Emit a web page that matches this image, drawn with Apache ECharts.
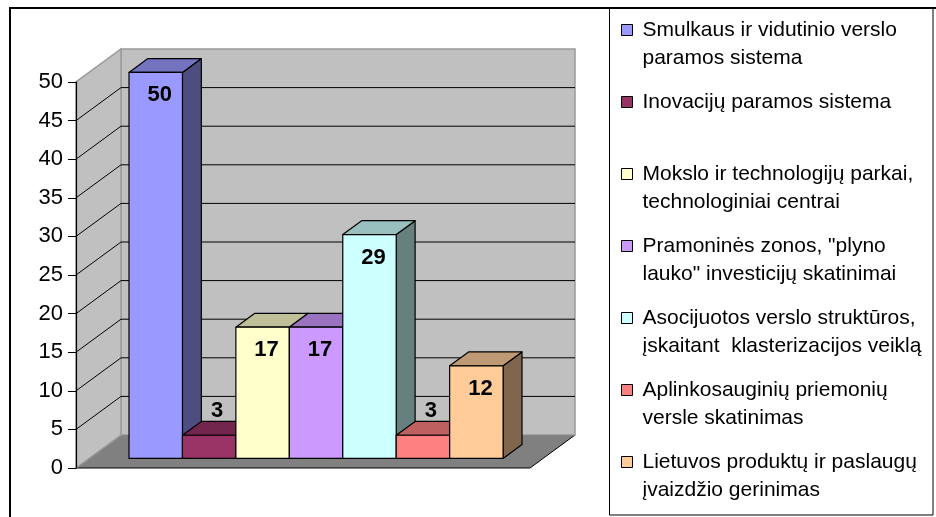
<!DOCTYPE html>
<html>
<head>
<meta charset="utf-8">
<script src="https://cdn.jsdelivr.net/npm/echarts@6/dist/echarts.min.js"></script>
<style>
  html, body { margin: 0; padding: 0; background: #fff; }
  #chart { width: 936px; height: 517px; }
</style>
</head>
<body>
<div id="chart"></div>
<script>
// data
const categories = [""];
const seriesNames = [
  "Smulkaus ir vidutinio verslo\nparamos sistema",
  "Inovacijų paramos sistema",
  "Mokslo ir technologijų parkai,\ntechnologiniai centrai",
  "Pramoninės zonos, \"plyno\nlauko\" investicijų skatinimai",
  "Asocijuotos verslo struktūros,\nįskaitant  klasterizacijos veiklą",
  "Aplinkosauginių priemonių\nversle skatinimas",
  "Lietuvos produktų ir paslaugų\nįvaizdžio gerinimas",
];
const values = [50, 3, 17, 17, 29, 3, 12];
const colors = ["#9999FF", "#993366", "#FFFFCC", "#CC99FF", "#CCFFFF", "#FF8080", "#FFCC99"];
const yTicks = [0, 5, 10, 15, 20, 25, 30, 35, 40, 45, 50];

const FONT = "'Liberation Sans', Arial, sans-serif";
const DEPTH = [45, -33]; // oblique offset of the back plane
const BAR_FRONT = 0.29; // bars sit between these depth fractions
const BAR_BACK = 0.71;
const GROUP_WIDTH = 0.824;

function shade(hex, k) {
  const n = parseInt(hex.slice(1), 16);
  const r = Math.round(((n >> 16) & 255) * k);
  const g = Math.round(((n >> 8) & 255) * k);
  const b = Math.round((n & 255) * k);
  return "rgb(" + r + "," + g + "," + b + ")";
}

const chart = echarts.init(document.getElementById("chart"));

// back wall, side wall, floor and their gridlines
function renderWalls(params, api) {
  const cs = params.coordSys;
  const x0 = cs.x;
  const x1 = cs.x + cs.width;
  const yBase = api.coord([0, yTicks[0]])[1];
  const yTop = api.coord([0, yTicks[yTicks.length - 1]])[1];
  const dx = DEPTH[0];
  const dy = DEPTH[1];
  const children = [
    {
      type: "polygon",
      shape: { points: [[x0, yBase], [x1, yBase], [x1 + dx, yBase + dy], [x0 + dx, yBase + dy]] },
      style: { fill: "#808080", stroke: "#000", lineWidth: 1 },
    },
    {
      type: "polygon",
      shape: { points: [[x0 + dx, yTop + dy], [x1 + dx, yTop + dy], [x1 + dx, yBase + dy], [x0 + dx, yBase + dy]] },
      style: { fill: "#C0C0C0", stroke: "#9a9a9a", lineWidth: 1.5 },
    },
    {
      type: "polygon",
      shape: { points: [[x0, yBase], [x0, yTop], [x0 + dx, yTop + dy], [x0 + dx, yBase + dy]] },
      style: { fill: "#C0C0C0", stroke: "#9a9a9a", lineWidth: 1.5 },
    },
  ];
  yTicks.slice(1, -1).forEach((v) => {
    const y = api.coord([0, v])[1];
    children.push({
      type: "line",
      shape: { x1: x0 + dx, y1: y + dy, x2: x1 + dx, y2: y + dy },
      style: { stroke: "#000", lineWidth: 1 },
    });
    children.push({
      type: "line",
      shape: { x1: x0, y1: y, x2: x0 + dx, y2: y + dy },
      style: { stroke: "#000", lineWidth: 1 },
    });
  });
  return { type: "group", children: children };
}

// one 3D column per series, placed side by side in the single category
function renderBar(params, api) {
  const idx = params.seriesIndex - 1;
  const bandW = api.size([1, 0])[0];
  const center = api.coord([api.value(0), 0])[0];
  const groupW = bandW * GROUP_WIDTH;
  const barW = groupW / values.length;
  const v = api.value(1);
  const left = center - groupW / 2 + idx * barW;
  const right = left + barW;
  const yBase = api.coord([api.value(0), 0])[1];
  const yTop = api.coord([api.value(0), v])[1];
  const fx = DEPTH[0] * BAR_FRONT, fy = DEPTH[1] * BAR_FRONT;
  const bx = DEPTH[0] * BAR_BACK, by = DEPTH[1] * BAR_BACK;
  const col = colors[idx];
  const line = { stroke: "#000", lineWidth: 1.2, lineJoin: "round" };
  const label = v >= 10
    ? { x: (left + right) / 2 + fx + 4, y: yTop + fy + 23 }
    : { x: (left + right) / 2 + fx + 8, y: yTop + fy - 24 };
  return {
    type: "group",
    children: [
      {
        type: "polygon",
        shape: { points: [[right + fx, yBase + fy], [right + bx, yBase + by], [right + bx, yTop + by], [right + fx, yTop + fy]] },
        style: Object.assign({ fill: shade(col, 0.5) }, line),
      },
      {
        type: "polygon",
        shape: { points: [[left + fx, yTop + fy], [right + fx, yTop + fy], [right + bx, yTop + by], [left + bx, yTop + by]] },
        style: Object.assign({ fill: shade(col, 0.75) }, line),
      },
      {
        type: "rect",
        shape: { x: left + fx, y: yTop + fy, width: barW, height: yBase - yTop },
        style: Object.assign({ fill: col }, line),
      },
      {
        type: "text",
        z2: 10,
        style: {
          text: String(v),
          x: label.x,
          y: label.y,
          align: "center",
          verticalAlign: "middle",
          fill: "#000",
          font: "bold 22px " + FONT,
        },
      },
    ],
  };
}

const series = [
  {
    name: "walls",
    type: "custom",
    z: 1,
    silent: true,
    renderItem: renderWalls,
    data: [[0, 0]],
  },
].concat(
  seriesNames.map((name, i) => ({
    name: name,
    type: "custom",
    z: 2,
    itemStyle: { color: colors[i] },
    renderItem: renderBar,
    data: [[0, values[i]]],
  }))
);

const option = {
  animation: false,
  backgroundColor: "#ffffff",
  textStyle: { fontFamily: FONT },
  grid: { left: 76, top: 82, width: 454, height: 386 },
  xAxis: {
    type: "category",
    data: categories,
    axisLine: { show: false },
    axisTick: { show: false },
    axisLabel: { show: false },
    splitLine: { show: false },
  },
  yAxis: {
    type: "value",
    min: 0,
    max: 50,
    interval: 5,
    z: 10,
    axisLine: { show: true, lineStyle: { color: "#000", width: 1.2 } },
    axisTick: { show: true, inside: false, length: 8, lineStyle: { color: "#000" } },
    axisLabel: { color: "#000", fontSize: 22, fontFamily: FONT, margin: 13 },
    splitLine: { show: false },
  },
  legend: {
    orient: "vertical",
    left: 621,
    top: -12,
    padding: 0,
    itemGap: -12,
    itemWidth: 11,
    itemHeight: 11,
    icon: "rect",
    selectedMode: false,
    itemStyle: { borderColor: "#000", borderWidth: 1 },
    textStyle: { color: "#000", fontSize: 21, lineHeight: 28, fontFamily: FONT, padding: [0, 0, 0, 5] },
    // a blank line above keeps the marker level with the first text line
    formatter: (name) => (name.indexOf("\n") >= 0 ? " \n" + name : " \n" + name + "\n "),
    data: seriesNames,
  },
  graphic: [
    {
      type: "rect",
      shape: { x: 10, y: 8, width: 940, height: 520 },
      style: { fill: "none", stroke: "#000", lineWidth: 2 },
      silent: true,
    },
    {
      type: "rect",
      shape: { x: 609.5, y: 8.5, width: 323.5, height: 506.5 },
      style: { fill: "none", stroke: "#000", lineWidth: 1 },
      silent: true,
    },
  ],
  series: series,
};

chart.setOption(option);
</script>
</body>
</html>
